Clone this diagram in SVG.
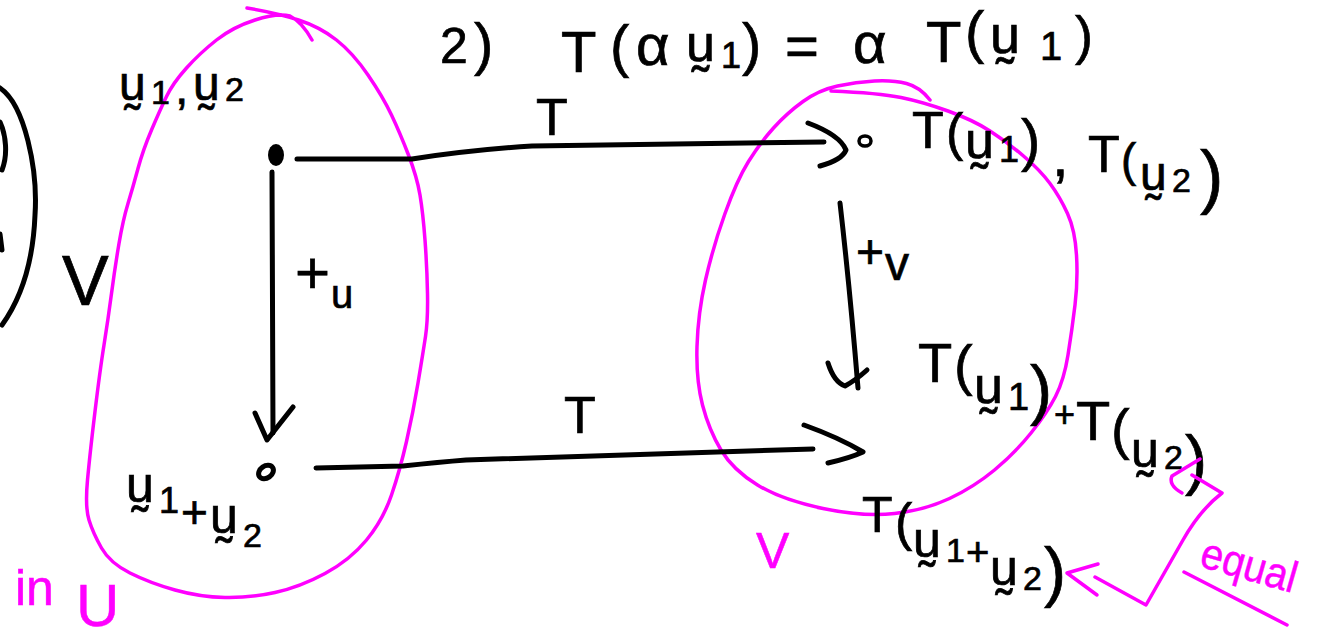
<svg xmlns="http://www.w3.org/2000/svg" width="1320" height="639" viewBox="0 0 1320 639">
<style>
.ink{fill:none;stroke:#000;stroke-width:5;stroke-linecap:round;stroke-linejoin:round}
.pink{fill:none;stroke:#ff00ff;stroke-width:3.5;stroke-linecap:round;stroke-linejoin:round}
.hw{font-family:"Liberation Sans","DejaVu Sans",sans-serif;fill:#000;stroke:#000;stroke-width:0.7}
.hwp{font-family:"Liberation Sans","DejaVu Sans",sans-serif;fill:#ff00ff;stroke:#ff00ff;stroke-width:0.5}
</style>
<rect width="1320" height="639" fill="#fff"/>

<!-- partial shape at left edge -->
<g id="edge-shape">
<path class="ink" d="M0,88 C25,105 38,170 35,215 C33,265 20,300 2,325"/>
<path class="ink" d="M0,122 C6,135 8,155 2,170"/>
<path class="ink" d="M0,234 L2,250"/>
</g>

<!-- formula -->
<g id="formula">
<text class="hw" font-size="58">
<tspan x="440" y="63" font-size="50">2</tspan>
<tspan x="474" y="64">)</tspan>
<tspan x="561" y="72">T</tspan>
<tspan x="610" y="66">(</tspan>
<tspan x="636" y="65">α</tspan>
<tspan x="686" y="61" font-size="52">u&#x330;</tspan>
<tspan x="721" y="68" font-size="36">1</tspan>
<tspan x="742" y="64">)</tspan>
<tspan x="785" y="66">=</tspan>
<tspan x="853" y="63">α</tspan>
<tspan x="926" y="62">T</tspan>
<tspan x="965" y="52">(</tspan>
<tspan x="990" y="53" font-size="54">u&#x330;</tspan>
<tspan x="1040" y="60" font-size="40">1</tspan>
<tspan x="1075" y="54" font-size="54">)</tspan>
</text>
</g>

<!-- set U -->
<g id="set-U">
<path class="pink" d="M247,8 Q277,13 298.5,20 Q320,27 336.5,40 Q353,53 368,75 Q383,97 391.5,115 Q400,133 408.5,155 Q417,177 420,195 Q423,213 425,240 Q427,267 427.5,293.5 Q428,320 425.5,336.5 Q423,353 418,383 Q413,413 406.5,441.5 Q400,470 391.5,495 Q383,520 366.5,540 Q350,560 325,573.5 Q300,587 275,592.5 Q250,598 225,597.5 Q200,597 175,590 Q150,583 130,573 Q110,563 101.5,548 Q93,533 89,520 Q85,507 87.5,480 Q90,453 95,411.5 Q100,370 104,345 Q108,320 111.5,293.5 Q115,267 119,243.5 Q123,220 128,203.5 Q133,187 138,168.5 Q143,150 151.5,130 Q160,110 166.5,96.5 Q173,83 186.5,68 Q200,53 216.5,40 Q233,27 255,20 Q277,13 290,16 Q302,22 312,40"/>
<text class="hwp"><tspan x="15" y="605" font-size="50">in</tspan><tspan x="76" y="626" font-size="60">U</tspan></text>
<text class="hw" x="62" y="305" font-size="70">V</text>
</g>

<!-- set V -->
<g id="set-V">
<path class="pink" d="M831,91 Q879,93 901,97.5 Q923,102 948,111 Q973,120 990,131 Q1007,142 1023.5,156 Q1040,170 1050,183.5 Q1060,197 1067.5,213.5 Q1075,230 1076.5,255 Q1078,280 1075,305 Q1072,330 1068,355 Q1064,380 1055.5,396.5 Q1047,413 1031,433 Q1015,453 994.5,470 Q974,487 949.5,498.5 Q925,510 894.5,513.5 Q864,517 823,508.5 Q782,500 757.5,485 Q733,470 721,450 Q709,430 702.5,405 Q696,380 697,346.5 Q698,313 705.5,280 Q713,247 725,213.5 Q737,180 748.5,161.5 Q760,143 773.5,128 Q787,113 803,101.5 Q819,90 837.5,86 Q856,82 874.5,81 Q893,80 906.5,83.5 Q920,87 930,100"/>
<text class="hwp" x="756" y="568" font-size="50">V</text>
</g>

<!-- point u1, u2 -->
<g id="node-u1u2">
<ellipse cx="276" cy="155" rx="8" ry="11" fill="#000"/>
<text class="hw" font-size="48">
<tspan x="119" y="100">u&#x330;</tspan>
<tspan x="151" y="104" font-size="34">1</tspan>
<tspan x="175" y="104">,</tspan>
<tspan x="193" y="100">u&#x330;</tspan>
<tspan x="225" y="101" font-size="34">2</tspan>
</text>
</g>

<!-- point u1 + u2 -->
<g id="node-sum">
<ellipse cx="266" cy="472" rx="8" ry="6" transform="rotate(-35 266 472)" fill="none" stroke="#000" stroke-width="5"/>
<text class="hw">
<tspan x="126" y="502" font-size="50">u&#x330;</tspan>
<tspan x="159" y="513" font-size="36">1</tspan>
<tspan x="181" y="528" font-size="46">+</tspan>
<tspan x="210" y="533" font-size="50">u&#x330;</tspan>
<tspan x="243" y="547" font-size="34">2</tspan>
</text>
</g>

<!-- T(u1), T(u2) -->
<g id="node-Tu">
<ellipse cx="865" cy="141" rx="6" ry="5" fill="none" stroke="#000" stroke-width="3.5"/>
<text class="hw">
<tspan x="912" y="148" font-size="52">T</tspan>
<tspan x="946" y="150" font-size="52">(</tspan>
<tspan x="965" y="158" font-size="52">u&#x330;</tspan>
<tspan x="999" y="162" font-size="36">1</tspan>
<tspan x="1021" y="160" font-size="58">)</tspan>
<tspan x="1052" y="176" font-size="60">,</tspan>
<tspan x="1088" y="172" font-size="52">T</tspan>
<tspan x="1121" y="176" font-size="46">(</tspan>
<tspan x="1140" y="190" font-size="48">u&#x330;</tspan>
<tspan x="1172" y="192" font-size="34">2</tspan>
<tspan x="1200" y="200" font-size="70">)</tspan>
</text>
</g>

<!-- T(u1) + T(u2) -->
<g id="node-TuSum">
<text class="hw">
<tspan x="918" y="382" font-size="56">T</tspan>
<tspan x="954" y="384" font-size="56">(</tspan>
<tspan x="974" y="403" font-size="52">u&#x330;</tspan>
<tspan x="1008" y="410" font-size="38">1</tspan>
<tspan x="1030" y="412" font-size="66">)</tspan>
<tspan x="1054" y="427" font-size="36">+</tspan>
<tspan x="1076" y="440" font-size="56">T</tspan>
<tspan x="1111" y="448" font-size="56">(</tspan>
<tspan x="1131" y="467" font-size="50">u&#x330;</tspan>
<tspan x="1164" y="469" font-size="34">2</tspan>
<tspan x="1185" y="482" font-size="66">)</tspan>
</text>
</g>

<!-- T(u1 + u2) -->
<g id="node-Tsum">
<text class="hw">
<tspan x="862" y="532" font-size="50">T</tspan>
<tspan x="895" y="540" font-size="52">(</tspan>
<tspan x="913" y="557" font-size="50">u&#x330;</tspan>
<tspan x="946" y="562" font-size="34">1</tspan>
<tspan x="966" y="566" font-size="40">+</tspan>
<tspan x="990" y="585" font-size="50">u&#x330;</tspan>
<tspan x="1023" y="590" font-size="34">2</tspan>
<tspan x="1044" y="594" font-size="66">)</tspan>
</text>
</g>

<!-- equal annotation -->
<g id="note-equal">
<text class="hwp" x="1198" y="566" font-size="44" textLength="98" lengthAdjust="spacingAndGlyphs" transform="rotate(16 1198 566)">equal</text>
<path class="pink" d="M1184,572 L1287,625"/>
</g>

<!-- connectors -->
<g id="connectors">
<path class="ink" d="M297,159 L412,159 Q470,150 532,146 L824,142"/>
<path class="ink" d="M808,123 Q840,135 846,150 Q842,160 820,166"/>
<text class="hw" x="536" y="135" font-size="52">T</text>

<path class="ink" d="M316,468 L403,466 Q440,462 466,460 L813,449"/>
<path class="ink" d="M804,425 Q840,438 863,452 Q850,458 828,463"/>
<text class="hw" x="564" y="433" font-size="52">T</text>

<path class="ink" d="M272,172 L273,433"/>
<path class="ink" d="M255,413 L267,440 L293,407"/>
<text class="hw"><tspan x="295" y="293" font-size="60">+</tspan><tspan x="331" y="308" font-size="40">u</tspan></text>

<path class="ink" d="M840,203 Q850,290 858,388"/>
<path class="ink" d="M828,363 Q834,382 845,386 Q856,380 867,370"/>
<text class="hw"><tspan x="856" y="268" font-size="48">+</tspan><tspan x="885" y="280" font-size="48">v</tspan></text>

<path class="pink" d="M1200,459 L1172,476 Q1168,485 1182,493"/>
<path class="pink" d="M1192,475 L1222,493 Q1200,510 1183,540 L1146,605 L1095,577"/>
<path class="pink" d="M1098,564 L1067,573 L1097,595"/>
</g>
</svg>
